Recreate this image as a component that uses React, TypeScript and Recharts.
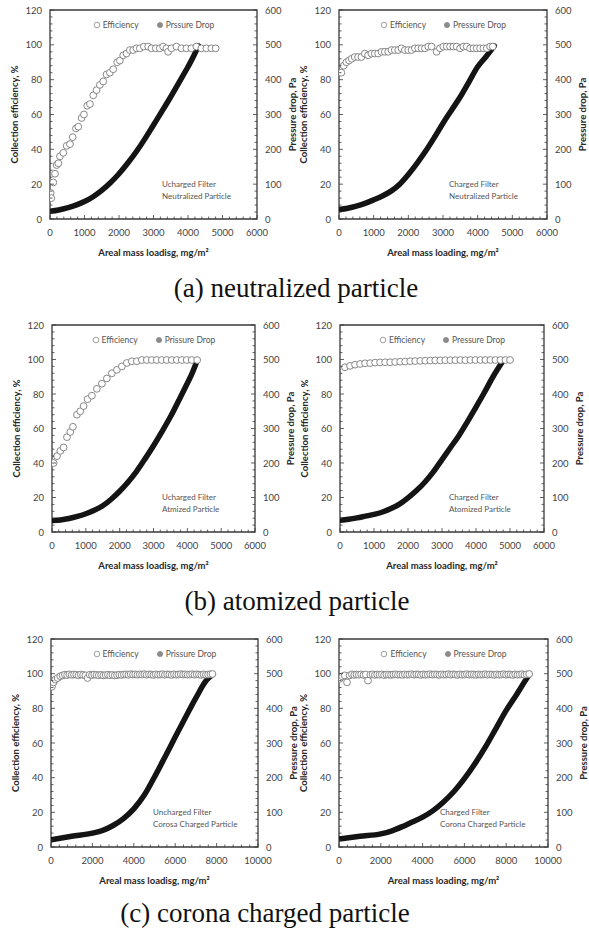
import React from "react";
import { ComposedChart, Line, Scatter, XAxis, YAxis, ReferenceArea, Legend } from "recharts";

type Pt = [number, number];

// collection efficiency (%) vs areal mass loading (mg/m2)
const effNeutUncharged: Pt[] = [
  [19, 15], [39, 12], [96, 21], [145, 26], [193, 31], [241, 32], [289, 36], [386, 38], [482, 42],
  [579, 43], [656, 47], [752, 52], [820, 53], [916, 58], [984, 60], [1080, 65], [1157, 66],
  [1254, 71], [1350, 74], [1446, 77], [1543, 79], [1639, 83], [1736, 84], [1832, 86], [1948, 90],
  [2025, 91], [2122, 94], [2218, 95], [2314, 97], [2411, 97], [2507, 98], [2604, 98], [2719, 99],
  [2845, 99], [2941, 98], [3067, 98], [3182, 98], [3279, 99], [3375, 98], [3423, 96], [3520, 98],
  [3664, 99], [3809, 98], [3954, 98], [4098, 98], [4243, 99], [4388, 98], [4532, 98], [4677, 98],
  [4802, 98],
];
const effNeutCharged: Pt[] = [
  [68, 84], [135, 88], [212, 90], [289, 91], [366, 92], [453, 93], [550, 93], [646, 93], [743, 95],
  [839, 94], [935, 95], [1032, 95], [1128, 95], [1225, 96], [1321, 96], [1418, 96], [1514, 97],
  [1610, 97], [1707, 97], [1803, 98], [1900, 97], [1996, 97], [2093, 97], [2189, 98], [2285, 98],
  [2382, 98], [2478, 98], [2575, 99], [2671, 99], [2816, 96], [2912, 98], [3009, 99], [3105, 99],
  [3202, 99], [3298, 99], [3394, 99], [3491, 98], [3587, 99], [3684, 99], [3780, 98], [3877, 98],
  [3973, 98], [4069, 98], [4166, 98], [4262, 98], [4359, 99], [4436, 99],
];
const effAtomUncharged: Pt[] = [
  [49, 40], [147, 44], [246, 47], [344, 49], [442, 55], [541, 58], [619, 61], [737, 68], [836, 70],
  [934, 73], [1052, 77], [1180, 79], [1327, 83], [1475, 86], [1622, 89], [1770, 92], [1917, 94],
  [2065, 96], [2212, 98], [2360, 99], [2507, 99], [2655, 99.7], [2802, 99.7], [2950, 99.7],
  [3097, 99.7], [3245, 99.7], [3392, 99.7], [3540, 99.7], [3687, 99.7], [3835, 99.7], [3982, 99.7],
  [4130, 99.7], [4290, 99.7],
];
const effAtomCharged: Pt[] = [
  [147, 95.5], [295, 96.3], [442, 97], [590, 97.4], [737, 97.8], [885, 97.9], [1032, 98.2],
  [1180, 98.3], [1327, 98.4], [1475, 98.4], [1622, 98.6], [1770, 98.7], [1917, 98.8], [2065, 99],
  [2212, 99.1], [2360, 99.2], [2507, 99.3], [2655, 99.4], [2802, 99.5], [2950, 99.5], [3097, 99.6],
  [3245, 99.6], [3392, 99.6], [3540, 99.7], [3687, 99.6], [3835, 99.7], [3982, 99.7], [4130, 99.7],
  [4277, 99.7], [4425, 99.7], [4572, 99.7], [4720, 99.7], [4867, 99.7], [5000, 99.7],
];
const effCoronaUncharged: Pt[] = [
  [48, 92.5], [128, 95], [209, 96.6], [321, 97.5], [449, 98.5], [560, 99], [670, 99.4], [780, 99.2],
  [890, 99.6], [1000, 99.3], [1110, 99.5], [1220, 99.4], [1330, 99.1], [1440, 99.5], [1550, 99.3],
  [1660, 99.0], [1766, 97.5], [1870, 99.4], [1980, 99.2], [2090, 99.5], [2200, 99.3], [2310, 99.1],
  [2420, 99.3], [2530, 99.0], [2640, 99.2], [2750, 99.4], [2860, 99.1], [2970, 99.3], [3080, 99.0],
  [3190, 99.2], [3300, 99.4], [3410, 99.3], [3520, 99.5], [3630, 99.6], [3740, 99.4], [3850, 99.7],
  [3960, 99.5], [4070, 99.6], [4180, 99.4], [4290, 99.6], [4400, 99.5], [4510, 99.7], [4620, 99.4],
  [4730, 99.6], [4840, 99.5], [4950, 99.3], [5060, 99.6], [5170, 99.4], [5280, 99.5], [5390, 99.7],
  [5500, 99.4], [5610, 99.6], [5720, 99.5], [5830, 99.3], [5940, 99.6], [6050, 99.4], [6160, 99.5],
  [6270, 99.7], [6380, 99.5], [6490, 99.6], [6600, 99.4], [6710, 99.5], [6820, 99.7], [6930, 99.4],
  [7040, 99.6], [7150, 99.5], [7260, 99.3], [7370, 99.6], [7480, 99.4], [7590, 99.5], [7700, 99.7],
  [7800, 99.8],
];
const effCoronaCharged: Pt[] = [
  [32, 97], [160, 98.4], [271, 99], [383, 95], [510, 99], [620, 99.6], [730, 99.3], [840, 99.5],
  [950, 99.4], [1060, 99.6], [1170, 99.3], [1280, 99.5], [1388, 96], [1500, 99.4], [1610, 99.6],
  [1720, 99.3], [1830, 99.5], [1940, 99.4], [2050, 99.6], [2160, 99.2], [2270, 99.5], [2380, 99.4],
  [2490, 99.3], [2600, 99.5], [2710, 99.6], [2820, 99.4], [2930, 99.5], [3040, 99.3], [3150, 99.6],
  [3260, 99.4], [3370, 99.5], [3480, 99.7], [3590, 99.4], [3700, 99.6], [3810, 99.5], [3920, 99.3],
  [4030, 99.6], [4140, 99.4], [4250, 99.5], [4360, 99.7], [4470, 99.4], [4580, 99.6], [4690, 99.5],
  [4800, 99.3], [4910, 99.6], [5020, 99.4], [5130, 99.5], [5240, 99.7], [5350, 99.4], [5460, 99.6],
  [5570, 99.5], [5680, 99.3], [5790, 99.6], [5900, 99.4], [6010, 99.5], [6120, 99.7], [6230, 99.4],
  [6340, 99.6], [6450, 99.5], [6560, 99.3], [6670, 99.6], [6780, 99.4], [6890, 99.5], [7000, 99.7],
  [7110, 99.4], [7220, 99.6], [7330, 99.5], [7440, 99.3], [7550, 99.6], [7660, 99.4], [7770, 99.5],
  [7880, 99.7], [7990, 99.4], [8100, 99.6], [8210, 99.5], [8320, 99.3], [8430, 99.6], [8540, 99.4],
  [8650, 99.5], [8760, 99.7], [8870, 99.4], [8980, 99.6], [9100, 99.8],
];

// pressure drop (Pa) vs areal mass loading (mg/m2)
const dpNeutUncharged: Pt[] = [
  [0, 22], [250, 26], [500, 32], [750, 40], [1000, 50], [1250, 64], [1500, 82], [1750, 104],
  [2000, 130], [2250, 160], [2500, 193], [2750, 230], [3000, 270], [3250, 310], [3500, 351],
  [3750, 394], [4000, 437], [4150, 465], [4300, 497],
];
const dpNeutCharged: Pt[] = [
  [0, 27], [250, 31], [500, 37], [750, 45], [1000, 55], [1250, 66], [1500, 80], [1750, 100],
  [2000, 128], [2250, 160], [2500, 195], [2750, 234], [3000, 275], [3250, 313], [3500, 351],
  [3750, 394], [4000, 437], [4250, 467], [4480, 497],
];
const dpAtomUncharged: Pt[] = [
  [0, 33], [250, 35], [500, 39], [750, 45], [1000, 53], [1250, 63], [1500, 76], [1750, 95],
  [2000, 118], [2250, 145], [2500, 176], [2750, 212], [3000, 250], [3250, 291], [3500, 334],
  [3750, 382], [4000, 431], [4150, 462], [4300, 499],
];
const dpAtomCharged: Pt[] = [
  [0, 34], [250, 37], [500, 41], [750, 46], [1000, 51], [1250, 58], [1500, 68], [1750, 81],
  [2000, 99], [2250, 120], [2500, 145], [2750, 175], [3000, 210], [3250, 245], [3500, 280],
  [3750, 320], [4000, 362], [4250, 405], [4500, 450], [4800, 497],
];
const dpCoronaUncharged: Pt[] = [
  [0, 21], [1000, 31], [2000, 40], [2500, 48], [3000, 62], [3500, 82], [4000, 110], [4500, 149],
  [5000, 202], [5500, 259], [6000, 317], [6500, 374], [7000, 430], [7500, 480], [7800, 497],
];
const dpCoronaCharged: Pt[] = [
  [0, 23], [1000, 31], [2000, 38], [2500, 46], [3000, 58], [3500, 72], [4000, 86], [4500, 105],
  [5000, 130], [5500, 160], [6000, 197], [6500, 240], [7000, 288], [7500, 341], [8000, 394],
  [8500, 440], [9000, 488], [9100, 497],
];

const effTicks = [0, 20, 40, 60, 80, 100, 120];
const dpTicks = [0, 100, 200, 300, 400, 500, 600];

const AXIS = "#3a3a3a";
const TEXT = "#444";
const FONT = "Lato, 'Open Sans', sans-serif";

type Panel = {
  eff: Pt[];
  dp: Pt[];
  xMax: number;
  xMajor: number;
  effName: string;
  dpName: string;
  note: string[];
  noteDx: number;
  xTitle: string;
  L: number;
  R: number;
  T: number;
  B: number;
};

const panels: Panel[] = [
  { eff: effNeutUncharged, dp: dpNeutUncharged, xMax: 6000, xMajor: 1000, effName: "Efficiency", dpName: "Prssure Drop",
    note: ["Ucharged Filter", "Neutralized Particle"], noteDx: 112, xTitle: "Areal mass loadisg, mg/m²", L: 50, R: 257, T: 10, B: 219 },
  { eff: effNeutCharged, dp: dpNeutCharged, xMax: 6000, xMajor: 1000, effName: "Efficiency", dpName: "Pressure Drop",
    note: ["Charged Filter", "Neutralized Particle"], noteDx: 110, xTitle: "Areal mass loading, mg/m²", L: 339, R: 547, T: 10, B: 219 },
  { eff: effAtomUncharged, dp: dpAtomUncharged, xMax: 6000, xMajor: 1000, effName: "Efficiency", dpName: "Prissure Drop",
    note: ["Ucharged Filter", "Atmized Particle"], noteDx: 110, xTitle: "Areal mass loadisg, mg/m²", L: 52, R: 255, T: 325, B: 532 },
  { eff: effAtomCharged, dp: dpAtomCharged, xMax: 6000, xMajor: 1000, effName: "Efficiency", dpName: "Pressure Drop",
    note: ["Charged Filter", "Atomized Particle"], noteDx: 109, xTitle: "Areal mass loading, mg/m²", L: 340, R: 544, T: 325, B: 532 },
  { eff: effCoronaUncharged, dp: dpCoronaUncharged, xMax: 10000, xMajor: 2000, effName: "Efficiency", dpName: "Prissure Drop",
    note: ["Uncharged Filter", "Corosa Charged Particle"], noteDx: 102, xTitle: "Areal mass loadisg, mg/m²", L: 51, R: 258, T: 639, B: 847 },
  { eff: effCoronaCharged, dp: dpCoronaCharged, xMax: 10000, xMajor: 2000, effName: "Efficiency", dpName: "Pressure Drop",
    note: ["Charged Filter", "Corona Charged Particle"], noteDx: 101, xTitle: "Areal mass loading, mg/m²", L: 339, R: 548, T: 639, B: 847 },
];

const captions = [
  { text: "(a) neutralized particle", cx: 296, cy: 288 },
  { text: "(b) atomized particle", cx: 297, cy: 601 },
  { text: "(c) corona charged particle", cx: 265, cy: 913 },
];

// ticks point into the plot; labels only on the major ones
const XTick = (props: any) => {
  const { x, y, payload, major } = props;
  const v = payload.value as number;
  const isMajor = v % major === 0;
  return (
    <g>
      <line x1={x} x2={x} y1={y} y2={y - (isMajor ? 4 : 2.5)} stroke={AXIS} strokeWidth={0.8} />
      {isMajor && (
        <text x={x} y={y + 13} textAnchor="middle" dominantBaseline="central" fontSize={9.5} fontFamily={FONT} fill={TEXT}>
          {v}
        </text>
      )}
    </g>
  );
};

const YTick = (props: any) => {
  const { x, y, payload, major, side } = props;
  const v = payload.value as number;
  const isMajor = v % major === 0;
  const dir = side === "left" ? 1 : -1;
  return (
    <g>
      <line x1={x} x2={x + dir * (isMajor ? 4 : 2.5)} y1={y} y2={y} stroke={AXIS} strokeWidth={0.8} />
      {isMajor && (
        <text x={x - dir * 8} y={y} textAnchor={side === "left" ? "end" : "start"} dominantBaseline="central"
          fontSize={9.5} fontFamily={FONT} fill={TEXT}>
          {v}
        </text>
      )}
    </g>
  );
};

const EffDot = (props: any) => (
  <circle cx={props.cx} cy={props.cy} r={3.4} fill="#fff" stroke="#7a7a7a" strokeWidth={0.9} />
);

const LegendBox = (props: any) => {
  const rank = (it: any) => (it.dataKey === "eff" ? 0 : 1);
  const items = [...(props.payload || [])].sort((a, b) => rank(a) - rank(b));
  return (
    <div style={{ display: "flex", justifyContent: "center", gap: 17, fontFamily: FONT, fontSize: 8.5, color: "#555", lineHeight: "14px" }}>
      {items.map((it: any) => (
        <span key={it.value} style={{ display: "flex", alignItems: "center" }}>
          <svg width={8} height={8} style={{ marginRight: 2 }}>
            {it.dataKey === "eff" ? (
              <circle cx={4} cy={4} r={2.8} fill="#fff" stroke="#888" strokeWidth={0.8} />
            ) : (
              <circle cx={4} cy={4} r={2.6} fill="#8c8c8c" stroke="#777" strokeWidth={0.6} />
            )}
          </svg>
          {it.value}
        </span>
      ))}
    </div>
  );
};

const steps = (max: number, step: number) => {
  const out: number[] = [];
  for (let v = 0; v <= max; v += step) out.push(v);
  return out;
};

function FilterChart({ p }: { p: Panel }) {
  const plotW = p.R - p.L;
  const plotH = p.B - p.T;
  const width = 50 + plotW + 45;
  const height = 10 + plotH + 45;
  const effData = p.eff.map(([x, v]) => ({ x, eff: v }));
  const dpData = p.dp.map(([x, v]) => ({ x, dp: v }));
  const titleStyle = { fontWeight: 700, fontSize: 9.5, fill: "#262626", fontFamily: FONT, textAnchor: "middle" as const };

  return (
    <>
      <div style={{ position: "absolute", left: p.L - 50, top: p.T - 10, width, height }}>
        <ComposedChart width={width} height={height} margin={{ top: 10, right: 0, bottom: 0, left: 0 }}>
          <XAxis type="number" dataKey="x" domain={[0, p.xMax]} ticks={steps(p.xMax, p.xMajor / 5)} interval={0}
            tickSize={0} tickMargin={0} axisLine={false} tickLine={false} height={45} allowDataOverflow
            tick={<XTick major={p.xMajor} />}
            label={{ value: p.xTitle, position: "insideBottom", offset: 8, style: titleStyle }} />
          <YAxis yAxisId="left" type="number" domain={[0, 120]} ticks={steps(120, 4)} interval={0} width={50}
            tickSize={0} tickMargin={0} axisLine={false} tickLine={false} allowDataOverflow
            tick={<YTick major={effTicks[1]} side="left" />}
            label={{ value: "Collection efficiency, %", angle: -90, position: "insideLeft", offset: 15, style: titleStyle }} />
          <YAxis yAxisId="right" orientation="right" type="number" domain={[0, 600]} ticks={steps(600, 20)} interval={0}
            width={45} tickSize={0} tickMargin={0} axisLine={false} tickLine={false} allowDataOverflow
            tick={<YTick major={dpTicks[1]} side="right" />}
            label={{ value: "Pressure drop, Pa", angle: -90, position: "insideRight", offset: 9, style: titleStyle }} />
          <ReferenceArea yAxisId="left" x1={0} x2={p.xMax} y1={0} y2={120} fill="none" stroke={AXIS}
            strokeWidth={1.3} ifOverflow="visible" />
          <Line yAxisId="right" data={dpData} dataKey="dp" name={p.dpName} type="monotone" stroke="#141414"
            strokeWidth={5.5} strokeLinecap="round" dot={false} activeDot={false} isAnimationActive={false}
            legendType="circle" />
          <Scatter yAxisId="left" data={effData} dataKey="eff" name={p.effName} shape={<EffDot />}
            isAnimationActive={false} legendType="circle" />
          <Legend layout="horizontal" verticalAlign="middle" align="center" content={<LegendBox />}
            wrapperStyle={{ top: 18, left: 50, width: plotW, height: 14 }} />
        </ComposedChart>
      </div>
      <div style={{ position: "absolute", left: p.L + p.noteDx, top: p.B - 41, fontFamily: FONT, fontSize: 8,
        lineHeight: "12px", color: "#555", whiteSpace: "nowrap" }}>
        {p.note.map((n) => (
          <div key={n}>{n}</div>
        ))}
      </div>
    </>
  );
}

export default function App() {
  return (
    <div style={{ position: "absolute", left: 0, top: 0, width: 589, height: 930, background: "#fff", overflow: "hidden" }}>
      {panels.map((p, i) => (
        <FilterChart key={i} p={p} />
      ))}
      {captions.map((c) => (
        <div key={c.text} style={{ position: "absolute", left: c.cx - 200, top: c.cy - 15, width: 400, textAlign: "center",
          fontFamily: "'Liberation Serif', 'Times New Roman', serif", fontSize: 27, lineHeight: "30px", color: "#111" }}>
          {c.text}
        </div>
      ))}
    </div>
  );
}
